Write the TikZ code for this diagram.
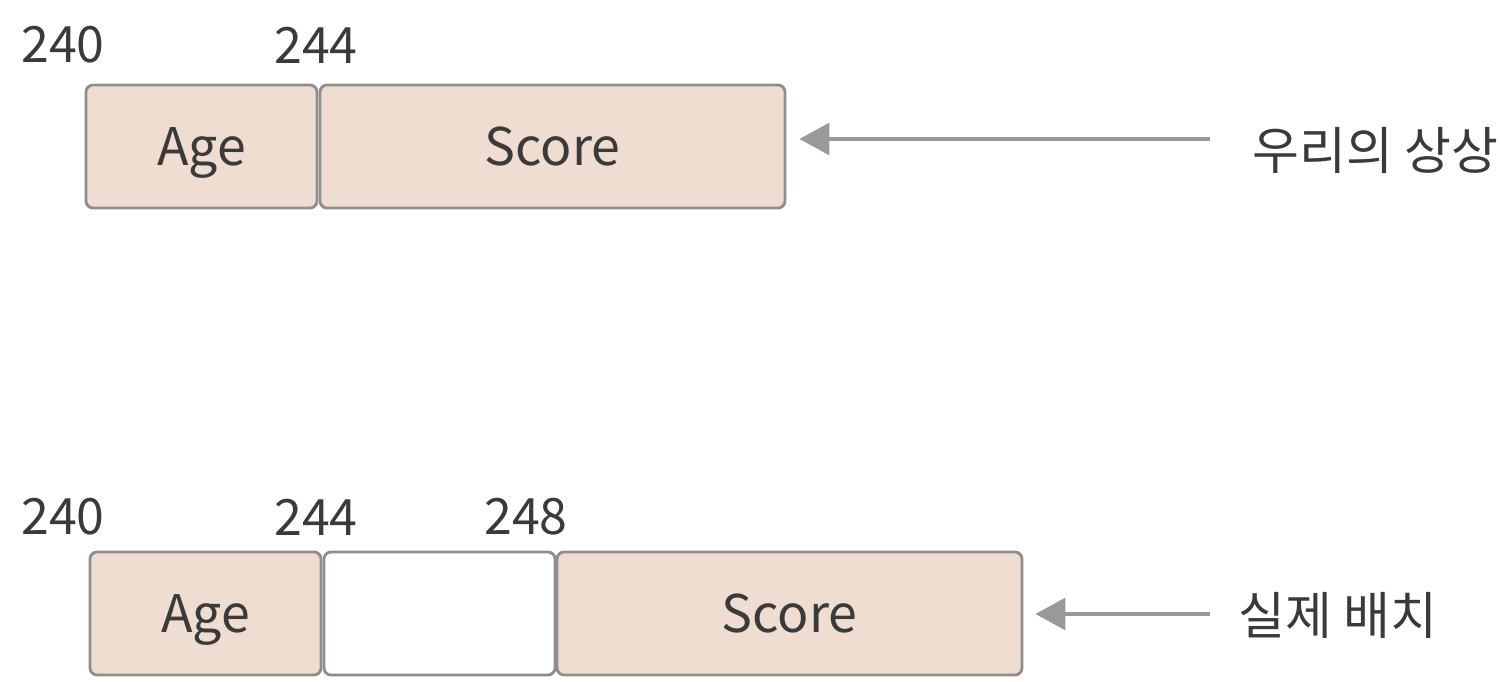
\documentclass[tikz,border=0pt]{standalone}
\usepackage{fontspec}
\setmainfont{Noto Sans CJK KR}
\usetikzlibrary{arrows.meta}
\definecolor{boxfill}{HTML}{EEDDD0}
\definecolor{boxline}{HTML}{8E8E8E}
\definecolor{txt}{HTML}{3A3A3A}
\definecolor{arr}{HTML}{999999}
\begin{document}
\begin{tikzpicture}[x=0.02cm,y=-0.02cm,
  cell/.style={draw=boxline,line width=1.6pt,rounded corners=4pt,fill=boxfill,inner sep=0pt,text=txt,font=\fontsize{29.5}{31}\selectfont,text height=21.5pt,text depth=0pt},
  emptycell/.style={cell,fill=white},
  addr/.style={text=txt,font=\fontsize{28.5}{30}\selectfont,inner sep=0pt},
  note/.style={text=txt,font=\fontsize{29}{31}\selectfont,inner sep=0pt,anchor=west},
  pointer/.style={draw=arr,line width=2.2pt,-{Triangle[length=17pt,width=18pt]}}]
\useasboundingbox (0,0) rectangle (1500,682);
% top row
\node[cell,minimum width=231*0.02cm,minimum height=123*0.02cm] (age1) at (201.5,146.5) {Age};
\node[cell,minimum width=465*0.02cm,minimum height=123*0.02cm] (score1) at (552.5,146.5) {Score};
\node[addr] (a240t) at (63,45) {240};
\node[addr] (a244t) at (316,45) {244};
\node[note] (n1) at (1252,150) {우리의 상상};
\coordinate (c1) at (1210,139);
\draw[pointer] (c1) -- ([xshift=13*0.02cm]score1.east |- c1);
% bottom row
\node[cell,minimum width=231*0.02cm,minimum height=123*0.02cm] (age2) at (205.5,613.5) {Age};
\node[emptycell,minimum width=231*0.02cm,minimum height=123*0.02cm] (pad) at (439.5,613.5) {};
\node[cell,minimum width=465*0.02cm,minimum height=123*0.02cm] (score2) at (789.5,613.5) {Score};
\node[addr] (a240b) at (63,517) {240};
\node[addr] (a244b) at (316,517) {244};
\node[addr] (a248b) at (526,517) {248};
\node[note] (n2) at (1238,615) {실제 배치};
\coordinate (c2) at (1210,614);
\draw[pointer] (c2) -- ([xshift=12*0.02cm]score2.east |- c2);
\end{tikzpicture}
\end{document}
